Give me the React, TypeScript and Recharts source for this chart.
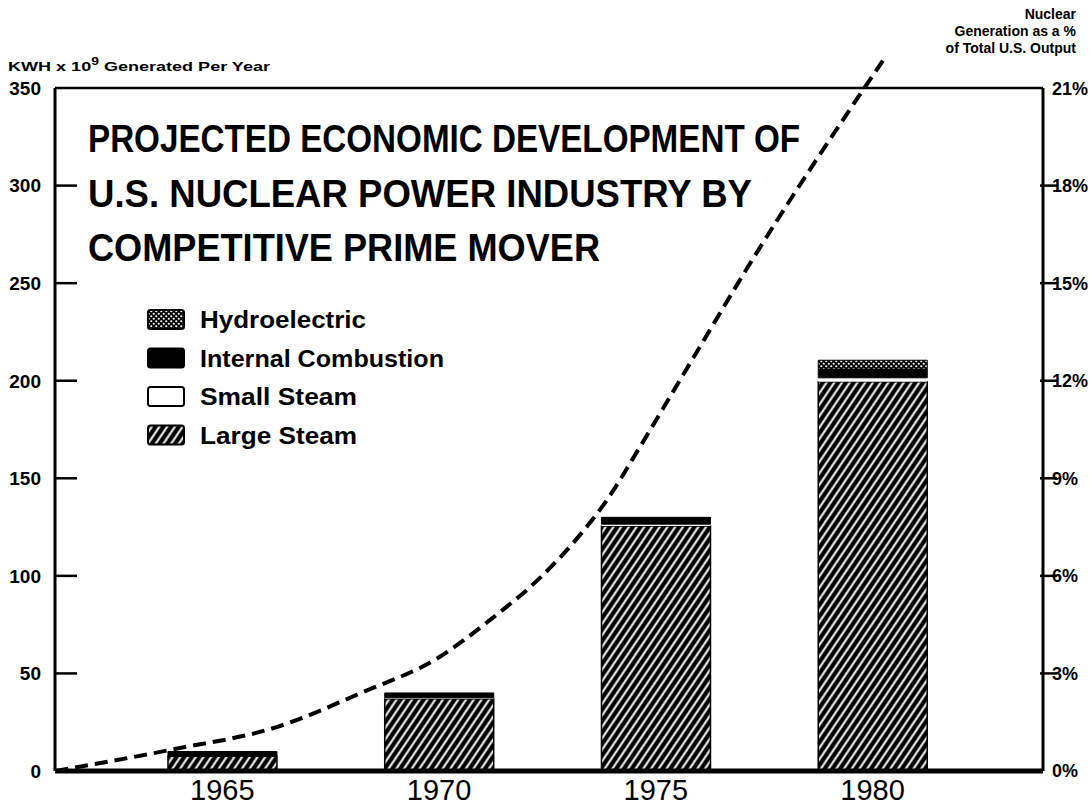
import React from 'react';
import { ComposedChart, Bar, Line, XAxis, YAxis, ReferenceLine, Legend } from 'recharts';

// ---- data ----
const years = [1965, 1970, 1975, 1980];
const largeSteam = [7.5, 37, 125.5, 199.5];
const smallSteam = [0, 0.5, 1, 2];
const internalCombustion = [2.5, 2.5, 3.5, 4.5];
const hydroelectric = [0, 0, 0, 4.5];

const lineYears = [1961.15, 1963.8, 1966.25, 1968.2, 1970.0, 1971.17, 1972.32, 1973.25, 1973.87, 1974.63, 1975.39, 1976.18, 1976.94, 1980.28];
const nuclearPct = [0, 0.65, 1.35, 2.4, 3.5, 4.64, 5.93, 7.26, 8.33, 9.96, 11.65, 13.41, 15.1, 21.93];

const kwhTicks = [0, 50, 100, 150, 200, 250, 300, 350];
const pctTicks = [0, 3, 6, 9, 12, 15, 18, 21];
const pctLabels = ['0%', '3%', '6%', '9%', '12%', '15%', '18%', '21%'];

const titleLines = ['PROJECTED ECONOMIC DEVELOPMENT OF', 'U.S. NUCLEAR POWER INDUSTRY BY', 'COMPETITIVE PRIME MOVER'];
const legendNames = ['Hydroelectric', 'Internal Combustion', 'Small Steam', 'Large Steam'];

const barData = years.map((y, i) => ({
  year: y,
  large: largeSteam[i],
  small: smallSteam[i],
  ic: internalCombustion[i],
  hydro: hydroelectric[i],
}));
const lineData = lineYears.map((y, i) => ({ year: y, pct: nuclearPct[i] }));

const X_MIN = 1961.14;
const X_MAX = 1983.93;
const KWH_MAX = 380;
const PCT_MAX = (KWH_MAX * 21) / 350;

const FONT = '"Liberation Sans", Arial, sans-serif';

const LeftTick = (props: any) => {
  const { x, y, payload } = props;
  const v = payload.value;
  return (
    <g>
      {v !== 0 && v !== 350 && <line x1={x} x2={x + 22} y1={y} y2={y} stroke="#000" strokeWidth={2.5} />}
      <text x={x - 14} y={y} dy="0.36em" textAnchor="end" fontFamily={FONT} fontWeight="bold" fontSize={19} fill="#000">
        {v}
      </text>
    </g>
  );
};

const RightTick = (props: any) => {
  const { x, y, payload } = props;
  const v = payload.value;
  const idx = pctTicks.indexOf(v);
  return (
    <g>
      {v !== 0 && v !== 21 && <line x1={x - 3} x2={x + 14} y1={y} y2={y} stroke="#000" strokeWidth={2.5} />}
      <text x={x + 9} y={y} dy="0.36em" textAnchor="start" fontFamily={FONT} fontWeight="bold" fontSize={18} fill="#000">
        {idx >= 0 ? pctLabels[idx] : v}
      </text>
    </g>
  );
};

const legendFills = ['url(#hydroPat)', '#000', '#fff', 'url(#hatchPat)'];
const legendWidths = [166, 244, 157, 157];

const renderLegend = () => (
  <svg width={320} height={150} style={{ display: 'block' }}>
    {legendNames.map((name, i) => (
      <g key={name} transform={`translate(0, ${i * 38.5})`}>
        <rect x={8} y={10} width={36} height={19} rx={2.5} fill={legendFills[i]} stroke="#000" strokeWidth={2} />
        <text x={60} y={28} fontFamily={FONT} fontWeight="bold" fontSize={23} fill="#000" textLength={legendWidths[i]} lengthAdjust="spacingAndGlyphs">
          {name}
        </text>
      </g>
    ))}
  </svg>
);

export default function App() {
  return (
    <div style={{ position: 'absolute', left: 0, top: 0, width: 1090, height: 810, background: '#fff' }}>
      <svg width={0} height={0} style={{ position: 'absolute' }}>
        <defs>
          <pattern id="hatchPat" patternUnits="userSpaceOnUse" width={6.4} height={10} patternTransform="rotate(34)">
            <rect x={0} y={0} width={6.4} height={10} fill="#000" />
            <line x1={3.2} y1={0} x2={3.2} y2={10} stroke="#fff" strokeWidth={2} />
          </pattern>
          <pattern id="hydroPat" patternUnits="userSpaceOnUse" width={5} height={5}>
            <rect x={0} y={0} width={5} height={5} fill="#000" />
            <circle cx={1.25} cy={1.25} r={1.1} fill="#fff" />
            <circle cx={3.75} cy={3.75} r={1.1} fill="#fff" />
          </pattern>
        </defs>
      </svg>
      <ComposedChart width={1090} height={810} data={barData} margin={{ top: 29.5, right: 0, bottom: 0, left: 0 }}>
        <XAxis
          xAxisId="bars"
          dataKey="year"
          type="number"
          domain={[X_MIN, X_MAX]}
          ticks={years}
          allowDataOverflow
          height={39}
          tickLine={false}
          axisLine={{ stroke: '#000', strokeWidth: 5 }}
          tick={{ fill: '#000', fontSize: 29, fontFamily: FONT }}
          tickSize={6}
          tickMargin={2}
        />
        <XAxis xAxisId="line" dataKey="year" type="number" domain={[X_MIN, X_MAX]} allowDataOverflow hide height={0} />
        <YAxis
          yAxisId="left"
          orientation="left"
          width={55}
          domain={[0, KWH_MAX]}
          ticks={kwhTicks}
          allowDataOverflow
          axisLine={false}
          tickLine={false}
          tickSize={0}
          tickMargin={0}
          tick={<LeftTick />}
          interval={0}
        />
        <YAxis
          yAxisId="right"
          orientation="right"
          width={47}
          domain={[0, PCT_MAX]}
          ticks={pctTicks}
          allowDataOverflow
          axisLine={false}
          tickLine={false}
          tickSize={0}
          tickMargin={0}
          tick={<RightTick />}
          interval={0}
        />
        <ReferenceLine xAxisId="bars" yAxisId="left" y={350} stroke="#000" strokeWidth={2.5} />
        <ReferenceLine xAxisId="bars" yAxisId="left" segment={[{ x: X_MIN, y: 0 }, { x: X_MIN, y: 350 }]} stroke="#000" strokeWidth={3} />
        <ReferenceLine xAxisId="bars" yAxisId="left" segment={[{ x: X_MAX, y: 0 }, { x: X_MAX, y: 350 }]} stroke="#000" strokeWidth={3} />
        <Bar xAxisId="bars" yAxisId="left" dataKey="large" name="Large Steam" stackId="a" barSize={109} fill="url(#hatchPat)" stroke="#000" strokeWidth={1.5} isAnimationActive={false} />
        <Bar xAxisId="bars" yAxisId="left" dataKey="small" name="Small Steam" stackId="a" barSize={109} fill="#fff" isAnimationActive={false} />
        <Bar xAxisId="bars" yAxisId="left" dataKey="ic" name="Internal Combustion" stackId="a" barSize={109} fill="#000" stroke="#000" strokeWidth={1} isAnimationActive={false} />
        <Bar xAxisId="bars" yAxisId="left" dataKey="hydro" name="Hydroelectric" stackId="a" barSize={109} fill="url(#hydroPat)" stroke="#000" strokeWidth={1} isAnimationActive={false} />
        <Line
          xAxisId="line"
          yAxisId="right"
          data={lineData}
          dataKey="pct"
          type="monotone"
          stroke="#000"
          strokeWidth={4}
          strokeDasharray="13 7"
          dot={false}
          activeDot={false}
          isAnimationActive={false}
        />
        <Legend
          layout="vertical"
          align="center"
          verticalAlign="middle"
          content={renderLegend}
          wrapperStyle={{ position: 'absolute', left: 140, top: 300, width: 320, height: 150 }}
        />
      </ComposedChart>
      <svg width={1090} height={810} style={{ position: 'absolute', left: 0, top: 0, pointerEvents: 'none' }}>
        <text x={8} y={71} fontFamily={FONT} fontWeight="bold" fontSize={13} fill="#000" textLength={262} lengthAdjust="spacingAndGlyphs">
          KWH x 10<tspan dy={-6} fontSize={10}>9</tspan><tspan dy={6}>{'  Generated Per Year'}</tspan>
        </text>
        <text x={1076} y={19} textAnchor="end" fontFamily={FONT} fontWeight="bold" fontSize={14} fill="#000">Nuclear</text>
        <text x={1076} y={36} textAnchor="end" fontFamily={FONT} fontWeight="bold" fontSize={14} fill="#000">Generation as a %</text>
        <text x={1076} y={53} textAnchor="end" fontFamily={FONT} fontWeight="bold" fontSize={14} fill="#000">of Total U.S. Output</text>
        {titleLines.map((t, i) => (
          <text
            key={t}
            x={88}
            y={152 + i * 54.5}
            fontFamily={FONT}
            fontWeight="bold"
            fontSize={38}
            fill="#000"
            textLength={[712, 664, 512][i]}
            lengthAdjust="spacingAndGlyphs"
          >
            {t}
          </text>
        ))}
      </svg>
    </div>
  );
}
